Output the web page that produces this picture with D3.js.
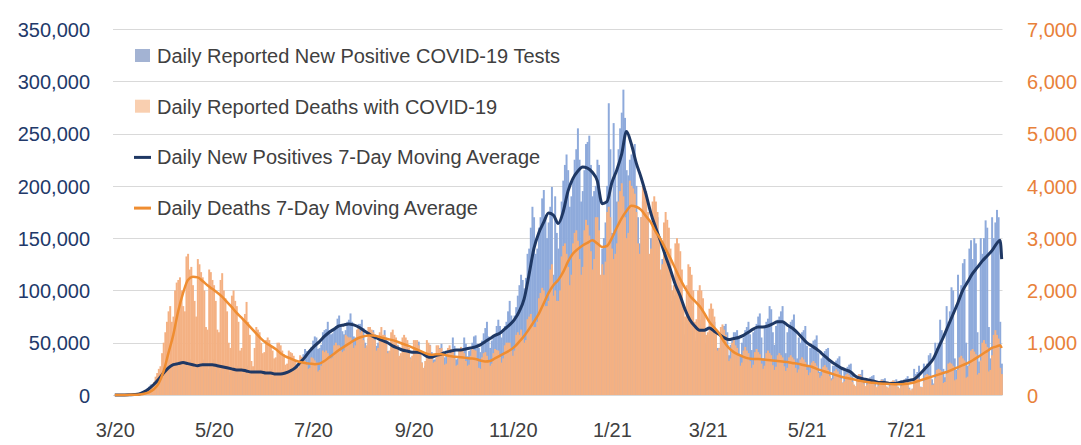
<!DOCTYPE html>
<html><head><meta charset="utf-8">
<script src="https://cdn.jsdelivr.net/npm/d3@7"></script>
<style>
html,body{margin:0;padding:0;background:#fff;}
svg{display:block;}
</style></head>
<body>
<svg id="chart" width="1081" height="445"></svg>
<script>
// ---------------- DATA ----------------
const startDate = "2020-03-01";   // first bar
const endDate   = "2021-08-30";   // end of last bar

// Daily reported new positive tests (thousands), one row per week (Sun..Sat)
const dailyCasesK = [
  .02,.02,.03,.03,.05,.07,.08,
  .1,.15,.2,.3,.4,.5,.6,
  .8,1,1.5,2,3,4.5,6,
  8,10,10,11,14,18,20,
  19,20,25,26,29,32,34,
  26,27,30,31,32,35,31,
  27,26,28,30,32,34,33,
  28,25,26,29,31,34,32,
  26,23,25,28,30,34,31,
  24,21,23,26,28,30,28,
  22,19,22,24,27,28,26,
  20,20,21,23,26,28,24,
  20,17,19,21,24,25,24,
  19,18,20,21,22,25,23,
  18,17,19,21,22,24,22,
  19,18,22,23,27,31,32,
  27,26,33,36,39,44,42,
  41,42,46,52,56,55,44,
  45,48,60,62,63,70,62,
  58,59,64,66,73,76,65,
  61,58,62,70,72,78,70,
  56,55,62,68,68,72,64,
  50,46,54,56,58,62,58,
  47,50,53,56,55,62,55,
  42,36,42,46,48,51,48,
  36,37,38,44,46,48,44,
  36,32,40,41,44,51,43,
  31,24,28,35,37,48,41,
  34,34,40,38,45,49,42,
  36,38,39,40,44,55,47,
  34,35,42,40,45,55,49,
  37,42,43,50,56,57,49,
  45,41,52,59,64,70,56,
  45,52,55,58,66,72,66,
  55,60,66,70,80,90,76,
  70,76,84,95,105,115,110,
  102,112,135,140,160,180,170,
  135,140,160,170,188,196,170,
  150,165,180,199,115,190,155,
  140,165,185,205,220,230,215,
  180,190,205,225,235,255,225,
  185,195,215,240,242,248,220,
  190,195,200,225,220,100,140,
  150,165,200,279,235,155,260,
  210,185,235,255,270,292,265,
  215,210,225,230,235,240,200,
  170,145,170,185,190,195,175,
  130,150,150,155,165,170,145,
  115,130,115,122,125,135,105,
  90,95,95,100,105,108,90,
  70,58,68,75,80,85,70,
  52,55,62,68,72,72,60,
  50,55,58,66,70,70,60,
  45,45,55,60,66,68,60,
  38,48,52,60,60,62,55,
  38,50,55,62,65,70,58,
  43,60,62,68,75,78,55,
  35,65,70,73,85,82,60,
  48,66,72,75,80,85,68,
  40,60,65,70,72,77,60,
  35,55,50,60,62,66,47,
  28,45,47,52,53,57,40,
  22,35,37,42,44,45,31,
  16,28,28,33,35,37,25,
  12,25,23,27,29,30,20,
  9,7,18,19,20,24,14,
  7,13,14,17,18,19,11,
  5,12,12,15,15,16,8,
  4,12,11,13,14,15,8,
  5,14,13,15,16,18,7,
  3,6,25,20,22,28,8,
  7,30,27,30,38,40,15,
  11,50,45,50,72,62,25,
  17,85,70,80,103,100,35,
  24,115,95,105,126,130,50,
  28,140,148,130,150,145,60,
  32,150,135,150,167,160,65,
  35,170,150,165,177,170,70,
  30
];

// Daily reported deaths, one row per week (Sun..Sat)
const dailyDeaths = [
  0,1,1,2,2,2,3,
  2,4,5,6,8,10,12,
  15,20,25,35,50,70,90,
  120,150,200,250,350,420,500,
  550,800,1000,1200,1400,1600,1700,
  1400,1500,2000,2150,2200,2250,2000,
  1700,1600,2650,2700,2400,2450,2100,
  1800,1500,2600,2500,2350,2250,2000,
  1300,1250,2400,2350,2200,2100,1800,
  1250,1200,2200,2330,2000,1850,1600,
  1000,900,1900,2000,1800,1700,1400,
  850,900,1450,1550,1780,1400,1150,
  650,550,900,1300,1250,1200,1000,
  800,820,1050,1100,1050,950,850,
  700,720,1000,1000,950,850,780,
  580,600,850,820,800,750,650,
  520,530,760,730,700,650,580,
  500,520,720,700,660,620,450,
  480,560,850,820,850,800,700,
  700,720,950,1000,950,950,850,
  820,850,1150,1120,1100,1100,1000,
  900,950,1250,1300,1200,1250,1050,
  900,950,1300,1300,1250,1200,1050,
  850,900,1200,1300,1150,1150,1000,
  800,850,1200,1250,1150,1100,950,
  750,800,1100,1150,1100,1050,900,
  700,750,1050,1050,1050,950,800,
  620,520,650,1050,1000,950,750,
  620,640,950,950,880,900,750,
  580,600,900,950,880,850,700,
  560,580,880,920,860,800,650,
  560,580,750,880,860,850,650,
  520,500,720,800,820,750,650,
  560,600,800,880,860,850,750,
  620,700,950,1000,1000,1000,850,
  750,850,1150,1200,1150,1250,1100,
  1000,1050,1450,1500,1550,1400,1300,
  1300,1400,1850,1950,2050,2000,1700,
  1700,1800,2400,2500,1900,2000,1800,
  1800,2000,2650,2850,2900,2700,2450,
  2100,2300,2900,3100,3150,2950,2600,
  2300,2450,3150,3350,3250,3050,2750,
  2400,2600,3400,3400,3150,2300,2500,
  2300,2550,3500,3600,3400,2800,2600,
  2700,2900,3700,3900,4050,3800,3400,
  3000,3100,4100,4000,3950,3850,3500,
  2900,2700,3400,4000,3900,3850,3500,
  2700,2800,3700,3800,3700,3500,3000,
  2400,2500,3300,3500,3350,3200,2800,
  2000,2100,2900,3000,2900,2750,2400,
  1650,1500,2100,2500,2450,2300,2000,
  1400,1450,2000,2100,2000,1850,1550,
  1150,1200,1650,1750,1650,1500,1250,
  850,900,1300,1350,1250,1150,950,
  650,700,1000,1050,950,900,750,
  560,620,850,920,850,800,650,
  520,580,820,880,820,780,600,
  500,560,800,850,800,760,570,
  480,540,760,800,760,720,550,
  460,520,720,760,720,680,520,
  430,490,680,720,680,630,480,
  380,430,620,650,610,560,420,
  330,370,540,570,530,480,360,
  280,310,460,490,450,400,300,
  230,260,390,410,380,340,250,
  200,170,300,400,380,320,220,
  170,200,290,310,290,250,180,
  150,180,270,290,270,230,160,
  140,170,260,280,260,220,150,
  130,170,270,290,260,220,120,
  90,120,330,360,320,280,150,
  150,260,380,400,380,350,190,
  200,320,480,500,480,450,230,
  250,400,600,620,600,560,280,
  300,480,720,750,700,660,330,
  350,560,850,880,830,780,390,
  420,660,1000,1050,980,920,450,
  480,760,1150,1240,1150,1080,520,
  400
];

// 7-day moving averages, read every third day (plus the last two days)
const maDayIndex = d3.range(0, 544, 3).concat([545, 546]);
const maCasesK = [
  0,0,0.05,0.2,0.4,1,3,6,10,15,
  21,26,29,30,31,30,29,28,29,29,
  29,28,27,26,25,24,24,23,22,22,
  22,21,21,20,20,21,23,26,31,36,
  42,47,51,56,60,63,66,67,68,67,
  65,62,59,56,54,52,50,47,45,43,
  42,41,41,40,37,36,38,39,41,42,
  43,43,44,45,46,48,51,54,57,59,
  63,67,72,80,92,115,140,155,165,174,
  172,164,175,195,207,214,218,217,213,205,
  183,185,203,215,230,252,240,222,208,192,
  174,160,147,133,120,106,95,82,72,66,
  62,62,64,61,58,55,53,54,55,57,
  60,63,65,65,66,68,70,70,67,64,
  60,55,50,47,44,40,36,32,29,26,
  24,22,18,16,15,14,13,12,12,11,
  11,12,13,14,15,19,24,29,35,45,
  55,66,77,88,100,108,116,122,128,133,
  138,145,
  148,130
];
const maDeaths = [
  0,0,1,3,5,10,25,50,110,220,
  450,800,1150,1600,1950,2200,2260,2250,2180,2100,
  2030,1960,1880,1780,1680,1570,1480,1380,1280,1180,
  1080,1000,940,880,800,740,700,660,630,610,
  600,590,600,650,720,790,860,920,980,1040,
  1090,1120,1140,1140,1120,1090,1070,1050,1020,980,
  950,910,870,830,790,770,780,780,760,740,
  730,720,710,700,690,660,640,650,700,750,
  800,850,920,1020,1130,1260,1400,1550,1750,1950,
  2100,2200,2350,2550,2700,2790,2860,2910,2960,2900,
  2830,2850,3000,3200,3380,3520,3620,3600,3540,3420,
  3300,3120,2980,2800,2620,2420,2220,2050,1900,1800,
  1700,1560,1400,1290,1180,1020,900,820,770,730,
  700,690,690,680,670,660,650,640,630,610,
  600,580,560,540,500,470,440,410,380,350,
  330,310,290,270,255,240,230,220,215,210,
  205,205,210,220,240,270,300,330,360,390,
  420,450,490,530,570,610,660,720,780,840,
  900,930,
  950,900
];

const xTickDates  = ["2020-03-01","2020-05-01","2020-07-01","2020-09-01","2020-11-01","2021-01-01","2021-03-01","2021-05-01","2021-07-01"];
const xTickLabels = ["3/20","5/20","7/20","9/20","11/20","1/21","3/21","5/21","7/21"];
const leftTickValues  = [0,50,100,150,200,250,300,350];   // thousands
const leftTickLabels  = ["0","50,000","100,000","150,000","200,000","250,000","300,000","350,000"];
const rightTickValues = [0,1000,2000,3000,4000,5000,6000,7000];
const rightTickLabels = ["0","1,000","2,000","3,000","4,000","5,000","6,000","7,000"];
const legendLabels = [
  "Daily Reported New Positive COVID-19 Tests",
  "Daily Reported Deaths with COVID-19",
  "Daily New Positives 7-Day Moving Average",
  "Daily Deaths 7-Day Moving Average"
];

// ---------------- STYLE ----------------
const FONT = '"Liberation Sans", Arial, sans-serif';
const C = {
  blueBar: "#8eaadb", orangeBar: "#f4b183",
  blueLine: "#1f3864", orangeLine: "#ef8d31",
  grid: "#d9d9d9", legendText: "#404040",
  leftAxis: "#22396a", rightAxis: "#e8813a", xAxis: "#404040"
};

// ---------------- CHART ----------------
const svg = d3.select("#chart");
svg.append("rect").attr("width",1081).attr("height",445).attr("fill","#fff");

const parse = d3.utcParse("%Y-%m-%d");
const t0 = parse(startDate);
const dayDate = i => d3.utcDay.offset(t0, i);

const x  = d3.scaleUtc().domain([t0, parse(endDate)]).range([114, 1002.5]);
const yL = d3.scaleLinear().domain([0, 350]).range([395, 29]);
const yR = d3.scaleLinear().domain([0, 7000]).range([395, 29]);
const barW = x(dayDate(1)) - x(dayDate(0));
const xc = i => x(dayDate(i)) + barW / 2;

// gridlines
svg.append("g").selectAll("line").data(leftTickValues).join("line")
  .attr("x1", 113).attr("x2", 1002.5)
  .attr("y1", d => Math.round(yL(d)) + 0.5).attr("y2", d => Math.round(yL(d)) + 0.5)
  .attr("stroke", C.grid).attr("stroke-width", 1);

// blue bars (cases)
svg.append("g")
  .selectAll("rect").data(dailyCasesK).join("rect")
  .attr("x", (d,i) => x(dayDate(i)))
  .attr("width", barW + 0.35)
  .attr("y", d => yL(d))
  .attr("height", d => yL(0) - yL(d))
  .attr("fill", C.blueBar);

// orange bars (deaths)
svg.append("g")
  .selectAll("rect").data(dailyDeaths).join("rect")
  .attr("x", (d,i) => x(dayDate(i)))
  .attr("width", barW + 0.35)
  .attr("y", d => yR(d))
  .attr("height", d => yR(0) - yR(d))
  .attr("fill", C.orangeBar);

// moving average lines
const lineCases = d3.line().x((d,i) => xc(maDayIndex[i])).y(d => yL(d)).curve(d3.curveMonotoneX);
const lineDeaths = d3.line().x((d,i) => xc(maDayIndex[i])).y(d => yR(d)).curve(d3.curveMonotoneX);
svg.append("path").attr("d", lineCases(maCasesK)).attr("fill","none")
  .attr("stroke", C.blueLine).attr("stroke-width", 3).attr("stroke-linejoin","round");
svg.append("path").attr("d", lineDeaths(maDeaths)).attr("fill","none")
  .attr("stroke", C.orangeLine).attr("stroke-width", 2.5).attr("stroke-linejoin","round");

// axes
const gl = svg.append("g").attr("transform","translate(90,0)")
  .call(d3.axisLeft(yL).tickValues(leftTickValues).tickFormat((d,i) => leftTickLabels[i]).tickSize(0).tickPadding(0));
gl.select(".domain").remove();
gl.attr("font-family", FONT).attr("font-size", 20);
gl.selectAll("text").attr("fill", C.leftAxis).attr("dy","0.36em");

const gr = svg.append("g").attr("transform","translate(1027,0)")
  .call(d3.axisRight(yR).tickValues(rightTickValues).tickFormat((d,i) => rightTickLabels[i]).tickSize(0).tickPadding(0));
gr.select(".domain").remove();
gr.attr("font-family", FONT).attr("font-size", 20);
gr.selectAll("text").attr("fill", C.rightAxis).attr("dy","0.36em");

const gb = svg.append("g").attr("transform", `translate(${barW/2},395)`)
  .call(d3.axisBottom(x).tickValues(xTickDates.map(parse)).tickFormat((d,i) => xTickLabels[i]).tickSize(0).tickPadding(28));
gb.select(".domain").remove();
gb.attr("font-family", FONT).attr("font-size", 20);
gb.selectAll("text").attr("fill", C.xAxis);

// legend
const legend = svg.append("g").attr("font-family", FONT).attr("font-size", 20);
const legendColors = [C.blueBar, C.orangeBar, C.blueLine, C.orangeLine];
legendLabels.forEach((lab, i) => {
  const base = 63 + i * 50.7;
  if (i < 2) {
    legend.append("rect").attr("x", 135).attr("y", base - 14).attr("width", 15).attr("height", 13)
      .attr("fill", i === 0 ? "#a3b3d3" : "#f9cfb0");
  } else {
    legend.append("line").attr("x1", 134).attr("x2", 151).attr("y1", base - 7).attr("y2", base - 7)
      .attr("stroke", legendColors[i]).attr("stroke-width", 3);
  }
  legend.append("text").attr("x", 157).attr("y", base).attr("fill", C.legendText).text(lab);
});
</script>
</body></html>
